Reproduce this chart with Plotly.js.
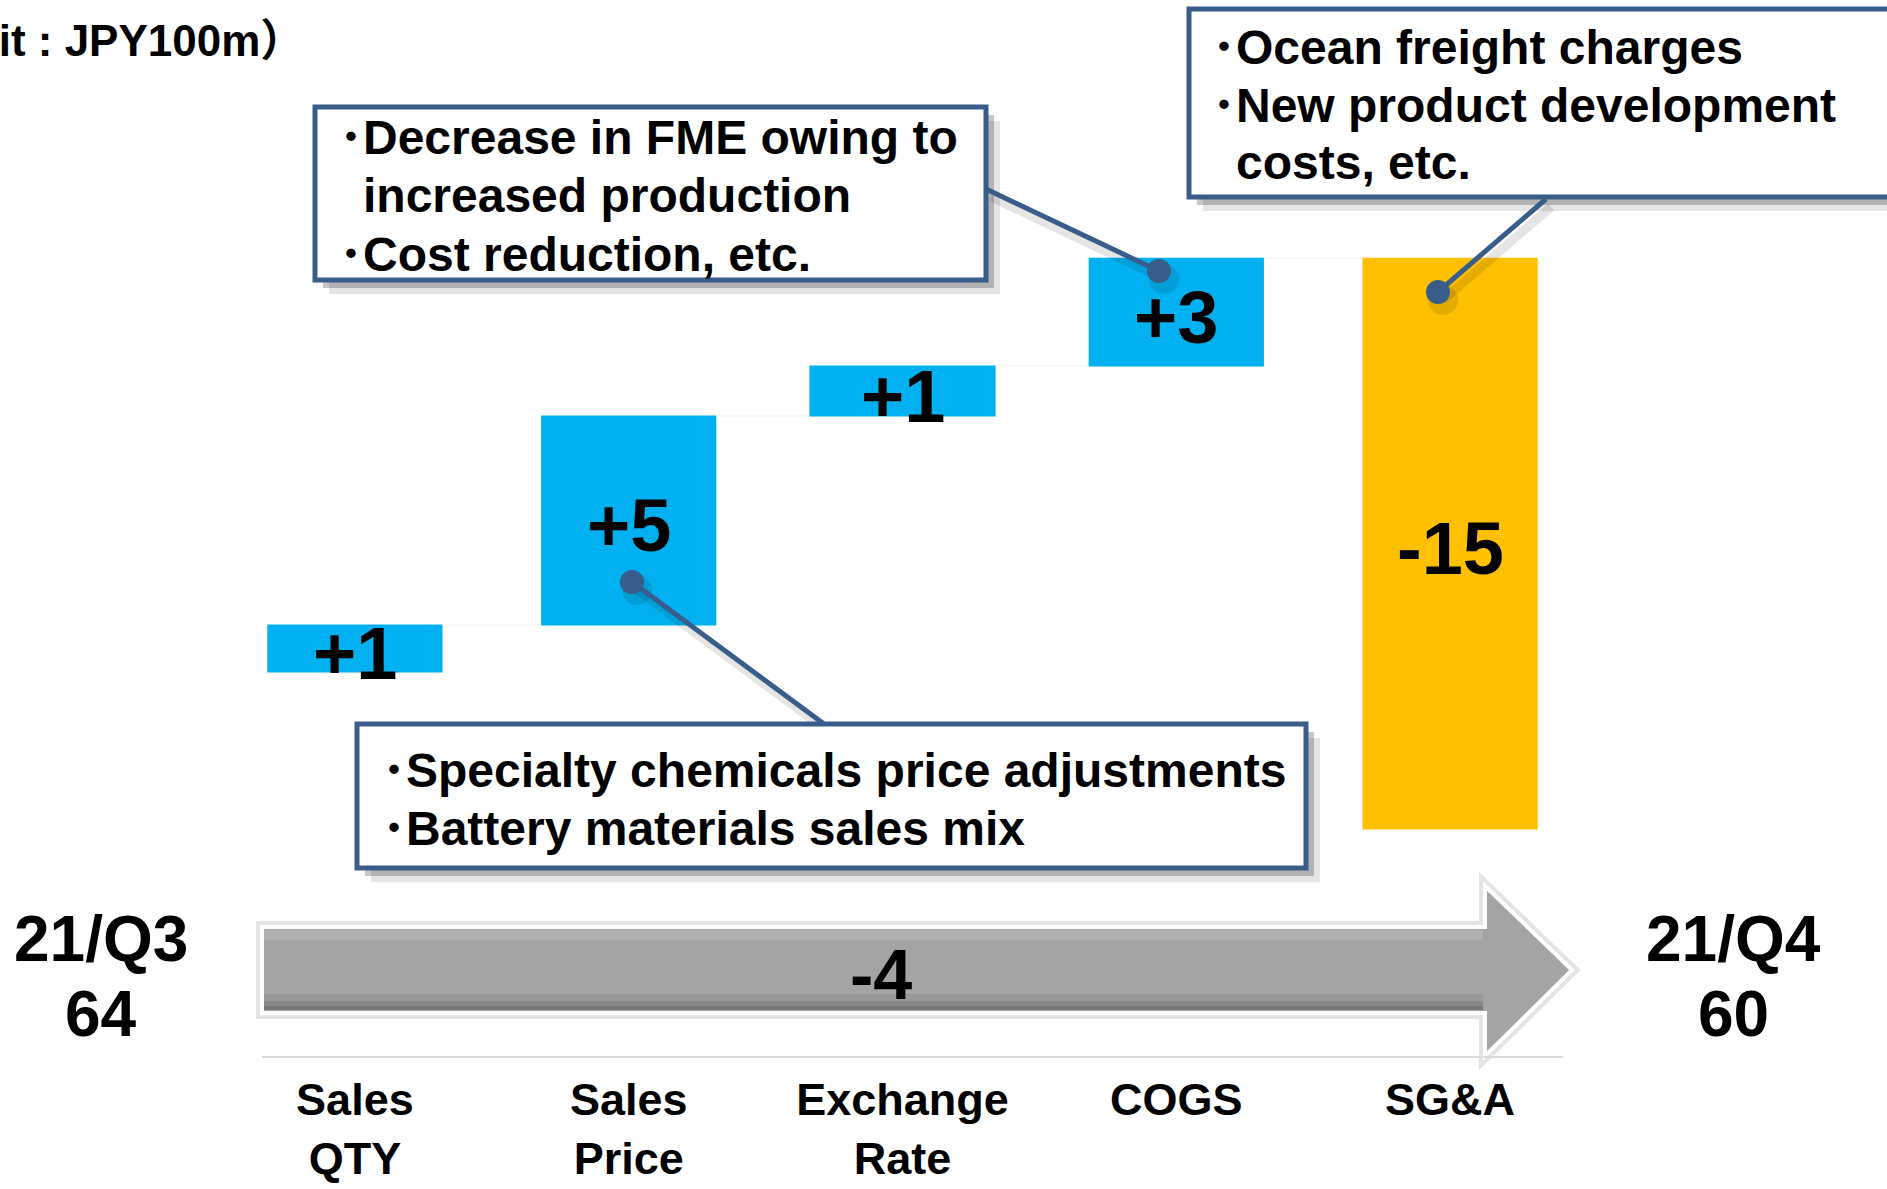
<!DOCTYPE html>
<html>
<head>
<meta charset="utf-8">
<script src="https://cdn.plot.ly/plotly-3.0.1.min.js"></script>
<style>
  html, body { margin: 0; padding: 0; background: #ffffff; overflow: hidden; }
  #chart { width: 1887px; height: 1189px; }
</style>
</head>
<body>
<div id="chart"></div>
<script>
// ---------------- data ----------------
const categories = ['Sales QTY', 'Sales Price', 'Exchange Rate', 'COGS', 'SG&A'];
const tickLabels = ['Sales<br>QTY', 'Sales<br>Price', 'Exchange<br>Rate', 'COGS', 'SG&A'];
const deltas = [1.22, 5.43, 1.30, 2.80, -14.83];
const startPeriod = '21/Q3';
const endPeriod = '21/Q4';
const startValue = 64.1;
const unitText = '（Unit : JPY100m）';

const calloutFME = ['･Decrease in FME owing to', 'increased production', '･Cost reduction, etc.'];
const calloutPrice = ['･Specialty chemicals price adjustments', '･Battery materials sales mix'];
const calloutSGA = ['･Ocean freight charges', '･New product development', 'costs, etc.'];

// ---------------- derived ----------------
let run = startValue;
const mids = [];
deltas.forEach(d => { mids.push(run + d / 2); run += d; });
const endValue = run;
const totalChange = endValue - startValue;
const fmt = v => (v > 0 ? '+' : '') + Math.round(v);
const barLabels = deltas.map(fmt);

// ---------------- layout helpers ----------------
const L = 218, T = 100, W = 1369, H = 960;
const px = x => (x - L) / W;
const py = y => (T + H - y) / H;
const FONT = 'Liberation Sans, Arial, Noto Sans CJK JP, sans-serif';
const BLUE = '#385D8A';

const shapes = [];
const annotations = [];

function rect(x0, y0, x1, y1, fill, line, lw, layer) {
  shapes.push({type: 'rect', xref: 'paper', yref: 'paper', x0: px(x0), x1: px(x1), y0: py(y1), y1: py(y0),
    fillcolor: fill, line: {color: line || 'rgba(0,0,0,0)', width: lw || 0}, layer: layer || 'above'});
}
function seg(x0, y0, x1, y1, color, w, layer) {
  shapes.push({type: 'line', xref: 'paper', yref: 'paper', x0: px(x0), y0: py(y0), x1: px(x1), y1: py(y1),
    line: {color: color, width: w}, layer: layer || 'above'});
}
function dot(x, y, r, color) {
  shapes.push({type: 'circle', xref: 'paper', yref: 'paper', x0: px(x - r), x1: px(x + r), y0: py(y + r), y1: py(y - r),
    fillcolor: color, line: {width: 0}, layer: 'above'});
}
function path(pts, fill, line, lw, layer) {
  const d = pts.map((p, i) => (i ? 'L' : 'M') + px(p[0]) + ',' + py(p[1])).join(' ') + ' Z';
  shapes.push({type: 'path', xref: 'paper', yref: 'paper', path: d, fillcolor: fill,
    line: {color: line, width: lw}, layer: layer || 'below'});
}
function text(x, y, t, size, xanchor) {
  annotations.push({xref: 'paper', yref: 'paper', x: px(x), y: py(y), text: t, showarrow: false,
    xanchor: xanchor || 'center', yanchor: 'middle',
    font: {family: FONT, size: size, color: '#000000', weight: 700}});
}
function callout(box, lines, bulletX, textX, firstY, gap, from, to) {
  seg(from[0] + 5, from[1] + 8, to[0] + 5, to[1] + 8, 'rgba(0,0,0,0.10)', 9);
  dot(to[0] + 5, to[1] + 8, 15, 'rgba(0,0,0,0.10)');
  rect(box[0] + 14, box[1] + 14, box[2] + 14, box[3] + 14, 'rgba(0,0,0,0.10)');
  rect(box[0] + 8, box[1] + 8, box[2] + 8, box[3] + 8, 'rgba(0,0,0,0.22)');
  seg(from[0], from[1], to[0], to[1], BLUE, 5);
  dot(to[0], to[1], 12, BLUE);
  rect(box[0], box[1], box[2], box[3], '#ffffff', BLUE, 5);
  lines.forEach((ln, i) => {
    const bullet = ln.charAt(0) === '･';
    text(bullet ? bulletX : textX, firstY + i * gap, ln, 48, 'left');
  });
}

// ---------------- arrow (total change) ----------------
const arrowPts = [[262, 927], [1485, 927], [1485, 886], [1572, 970], [1485, 1056], [1485, 1013], [262, 1013]];
path(arrowPts, 'rgba(0,0,0,0)', '#e4e4e4', 12);
path(arrowPts, '#a4a4a4', '#ffffff', 4);
rect(264, 930, 1483, 940, '#b0b0b0', null, 0, 'below');
rect(264, 994, 1483, 1001, '#999999', null, 0, 'below');
rect(264, 1001, 1483, 1006, '#888888', null, 0, 'below');
rect(264, 1006, 1483, 1010, '#777777', null, 0, 'below');
seg(262, 1057, 1563, 1057, '#dadada', 2, 'below');
text(881, 975, fmt(totalChange), 70);

// ---------------- side labels ----------------
text(101, 939, startPeriod, 64);
text(101, 1014, String(Math.round(startValue)), 64);
text(1733, 939, endPeriod, 64);
text(1733, 1014, String(Math.round(endValue)), 64);

// unit
text(306, 40, unitText, 44, 'right');

// ---------------- callouts ----------------
callout([315, 107, 986, 280], calloutFME, 337, 361, 138, 58, [986, 189], [1159, 271]);
callout([357, 724, 1306, 868], calloutPrice, 380, 404, 770, 58, [824, 724], [632, 582]);
callout([1189, 9, 1897, 197], calloutSGA, 1210, 1234, 48, 57, [1546, 199], [1438, 292]);

// ---------------- bar value labels (placed through data axes) ----------------
categories.forEach((c, i) => {
  annotations.push({xref: 'x', yref: 'y', x: c, y: mids[i], text: barLabels[i], showarrow: false,
    xanchor: 'center', yanchor: 'middle', yshift: -5,
    font: {family: FONT, size: 74, color: '#000000', weight: 700}});
});

// ---------------- traces ----------------
const waterfall = {
  type: 'waterfall',
  x: categories,
  y: deltas,
  base: startValue,
  measure: deltas.map(() => 'relative'),
  width: [0.64, 0.64, 0.68, 0.64, 0.64],
  increasing: {marker: {color: '#00B0F0'}},
  decreasing: {marker: {color: '#FFC000'}},
  connector: {mode: 'between', line: {color: '#f0f0f0', width: 1}},
  textinfo: 'none',
  hoverinfo: 'skip',
  showlegend: false
};

const layout = {
  width: 1887, height: 1189,
  margin: {l: L, r: 1887 - L - W, t: T, b: 1189 - T - H},
  paper_bgcolor: '#ffffff', plot_bgcolor: '#ffffff',
  showlegend: false,
  xaxis: {
    type: 'category', range: [-0.5, 4.5], tickmode: 'array', tickvals: categories, ticktext: tickLabels,
    tickfont: {family: FONT, size: 45, color: '#000000', weight: 700},
    showgrid: false, zeroline: false, showline: false, ticks: '', ticklabelstandoff: 9, fixedrange: true
  },
  yaxis: {range: [54.02, 78.96], visible: false, showgrid: false, zeroline: false, fixedrange: true},
  shapes: shapes,
  annotations: annotations
};

Plotly.newPlot('chart', [waterfall], layout, {staticPlot: true, displayModeBar: false});
</script>
</body>
</html>
